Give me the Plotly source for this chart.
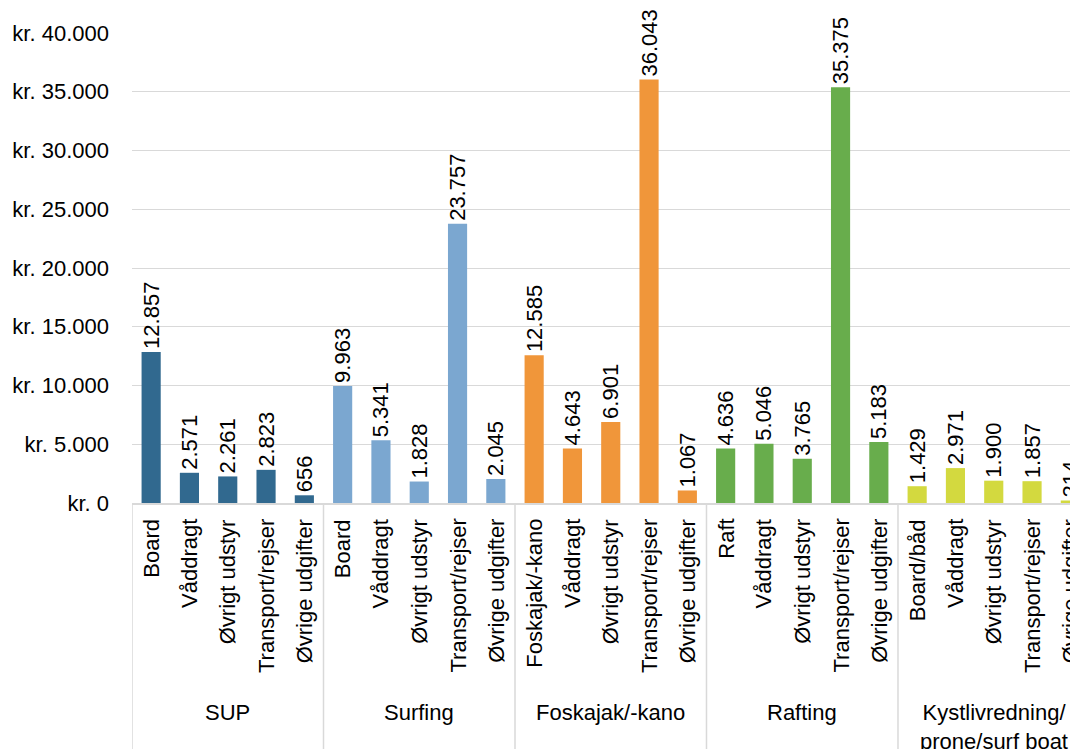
import plotly.graph_objects as go

groups = ["SUP", "Surfing", "Foskajak/-kano", "Rafting", "Kystlivredning/<br>prone/surf boat"]
items = [
    ["Board", "Våddragt", "Øvrigt udstyr", "Transport/rejser", "Øvrige udgifter"],
    ["Board", "Våddragt", "Øvrigt udstyr", "Transport/rejser", "Øvrige udgifter"],
    ["Foskajak/-kano", "Våddragt", "Øvrigt udstyr", "Transport/rejser", "Øvrige udgifter"],
    ["Raft", "Våddragt", "Øvrigt udstyr", "Transport/rejser", "Øvrige udgifter"],
    ["Board/båd", "Våddragt", "Øvrigt udstyr", "Transport/rejser", "Øvrige udgifter"],
]
sup = [12857, 2571, 2261, 2823, 656]
surfing = [9963, 5341, 1828, 23757, 2045]
foskajak = [12585, 4643, 6901, 36043, 1067]
rafting = [4636, 5046, 3765, 35375, 5183]
kyst = [1429, 2971, 1900, 1857, 214]
series = [sup, surfing, foskajak, rafting, kyst]
colors = ["#31698F", "#7BA7D0", "#F0963A", "#68AD4C", "#D3D93F"]
y_tick_vals = [0, 5000, 10000, 15000, 20000, 25000, 30000, 35000, 40000]


def dk(v):
    return f"{v:,}".replace(",", ".")


FONT = "Liberation Sans"
FS = 22
GRID = "#D9D9D9"

fig = go.Figure()
n_items = len(items[0])
for g, vals in enumerate(series):
    xs = [g * n_items + j for j in range(len(vals))]
    fig.add_trace(go.Bar(
        x=xs, y=vals, marker=dict(color=colors[g], line=dict(width=0)),
        text=[dk(v) for v in vals], textposition="outside", textangle=-90,
        textfont=dict(family=FONT, size=FS, color="#000000"),
        constraintext="none", cliponaxis=False, showlegend=False,
    ))

annotations = []
for g, labs in enumerate(items):
    for j, lab in enumerate(labs):
        annotations.append(dict(
            x=g * n_items + j, xref="x", y=0, yref="paper", yshift=-14,
            text=lab, textangle=-90, showarrow=False, xanchor="center", yanchor="top",
            font=dict(family=FONT, size=FS, color="#000000"),
        ))
    annotations.append(dict(
        x=g * n_items + (n_items - 1) / 2, xref="x", y=0, yref="paper", yshift=-195,
        text=groups[g], showarrow=False, xanchor="center", yanchor="top",
        font=dict(family=FONT, size=FS, color="#000000"),
    ))

shapes = []
for g in range(len(groups)):
    xb = g * n_items - 0.5
    shapes.append(dict(type="line", xref="x", yref="paper", x0=xb, x1=xb, y0=0, y1=-0.53,
                       line=dict(color=GRID, width=1.5)))

fig.update_layout(
    width=1070, height=741,
    margin=dict(l=124, r=0, t=25, b=246),
    paper_bgcolor="white", plot_bgcolor="white",
    bargap=0.5,
    font=dict(family=FONT, size=FS, color="#000000"),
    xaxis=dict(range=[-0.5, 24.2], showticklabels=False, showgrid=False, zeroline=False,
               showline=True, linecolor=GRID, linewidth=1.5, ticks=""),
    yaxis=dict(range=[0, 40000], tickvals=y_tick_vals, ticktext=["kr. " + dk(v) for v in y_tick_vals],
               showgrid=True, gridcolor=GRID, gridwidth=1.3, zeroline=False, showline=False,
               ticklabelstandoff=22, tickfont=dict(family=FONT, size=FS, color="#000000")),
    annotations=annotations, shapes=shapes,
)

fig.write_html("out.html")
